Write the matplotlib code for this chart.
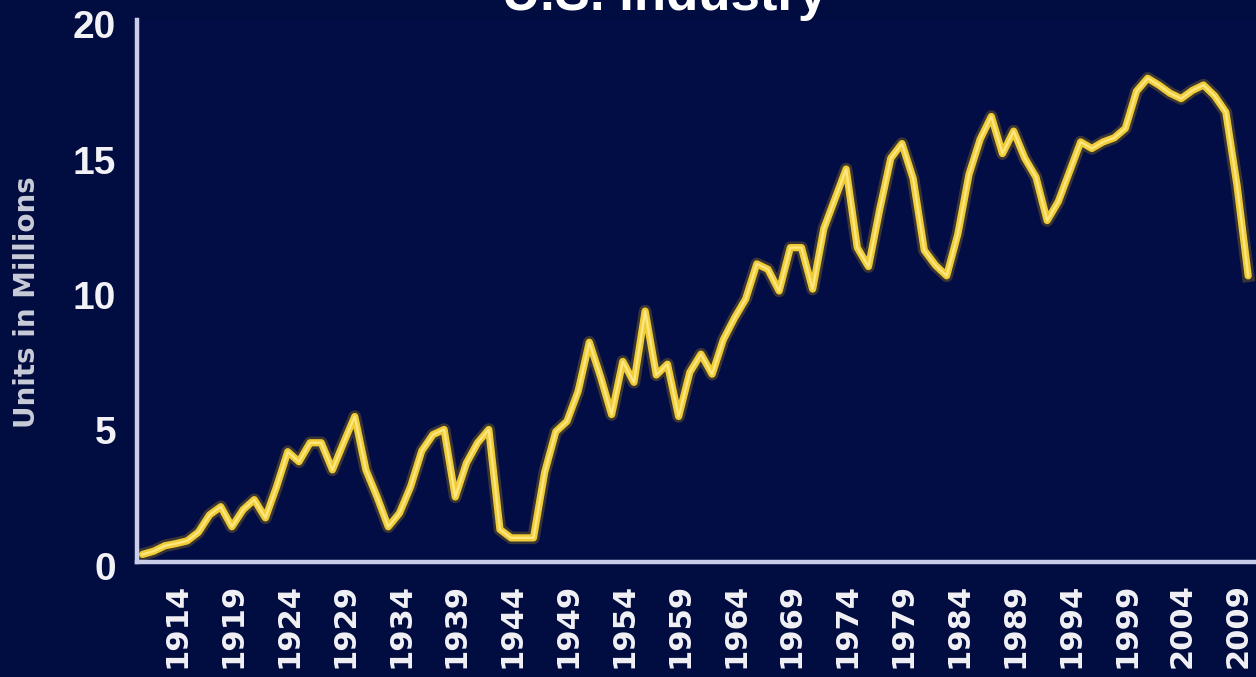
import matplotlib
matplotlib.use("Agg")
import matplotlib.pyplot as plt
import matplotlib.transforms as mtransforms

# values (units in millions), one per year
years = list(range(1910, 2010))
units = [
    0.28, 0.40, 0.60, 0.68, 0.78, 1.10, 1.74, 2.04, 1.30, 1.93,
    2.30, 1.63, 2.78, 4.07, 3.70, 4.40, 4.40, 3.40, 4.40, 5.37,
    3.40, 2.40, 1.30, 1.80, 2.78, 4.10, 4.70, 4.89, 2.40, 3.65,
    4.40, 4.89, 1.20, 0.89, 0.89, 0.89, 3.30, 4.81, 5.19, 6.30,
    8.11, 6.85, 5.44, 7.40, 6.63, 9.26, 6.90, 7.30, 5.37, 7.00,
    7.67, 6.93, 8.20, 9.00, 9.70, 11.00, 10.80, 10.00, 11.60, 11.60,
    10.07, 12.30, 13.40, 14.50, 11.60, 10.90, 13.00, 14.90, 15.44, 14.15,
    11.50, 10.95, 10.56, 12.10, 14.30, 15.60, 16.44, 15.07, 15.90, 14.90,
    14.20, 12.60, 13.30, 14.40, 15.50, 15.26, 15.50, 15.65, 16.00, 17.37,
    17.85, 17.60, 17.30, 17.10, 17.40, 17.60, 17.20, 16.60, 13.90, 10.56,
]
tick_years = list(range(1914, 2010, 5))
y_ticks = [0, 5, 10, 15, 20]

bg = "#010c40"

fig = plt.figure(figsize=(12.56, 6.77), dpi=100, facecolor=bg)
ax = fig.add_axes([137 / 1256, 1 - 562 / 677, 1 - 137 / 1256, (562 - 20) / 677])
ax.set_facecolor("#030d45")

# soft glow, body and highlight of the yellow line
ax.plot(years, units, color="#a08218", lw=9, alpha=0.35, solid_joinstyle="round")
ax.plot(years, units, color="#f0cd36", lw=5.2, solid_joinstyle="round", solid_capstyle="round")
ax.plot(years, units, color="#ffe784", lw=1.6, solid_joinstyle="round")

ax.set_xlim(1909.5, 2009.7)
ax.set_ylim(0, 20)

for side in ("top", "right"):
    ax.spines[side].set_visible(False)
for side in ("left", "bottom"):
    ax.spines[side].set_color("#c9cdea")
    ax.spines[side].set_linewidth(3.2)

ax.set_yticks(y_ticks)
ax.set_yticklabels([str(v) for v in y_ticks], family="Liberation Sans", weight="bold",
                   fontsize=28, color="#f2f2f6")
ax.set_xticks(tick_years)
ax.set_xticklabels([str(y) for y in tick_years], rotation=90, family="DejaVu Sans",
                   weight="bold", fontsize=22, color="#f2f2f6")
ax.tick_params(axis="y", length=0, pad=15)
ax.tick_params(axis="x", length=0, pad=13)

shift = mtransforms.ScaledTranslation(-10 / 100, -3 / 100, fig.dpi_scale_trans)
for lbl in ax.get_xticklabels():
    lbl.set_transform(lbl.get_transform() + shift)
down = mtransforms.ScaledTranslation(0, -4 / 100, fig.dpi_scale_trans)
for lbl in ax.get_yticklabels():
    lbl.set_transform(lbl.get_transform() + down)

fig.text(27 / 1256, 1 - 302 / 677, "Units in Millions", rotation=90, ha="center",
         va="center", family="DejaVu Sans", weight="bold", fontsize=20, color="#c9ccd8")
fig.text(665 / 1256, 1 - 10 / 677, "U.S. Industry", ha="center", va="baseline",
         family="Liberation Sans", weight="bold", fontsize=38, color="white")

fig.savefig("out.png", dpi=100, facecolor=bg)
